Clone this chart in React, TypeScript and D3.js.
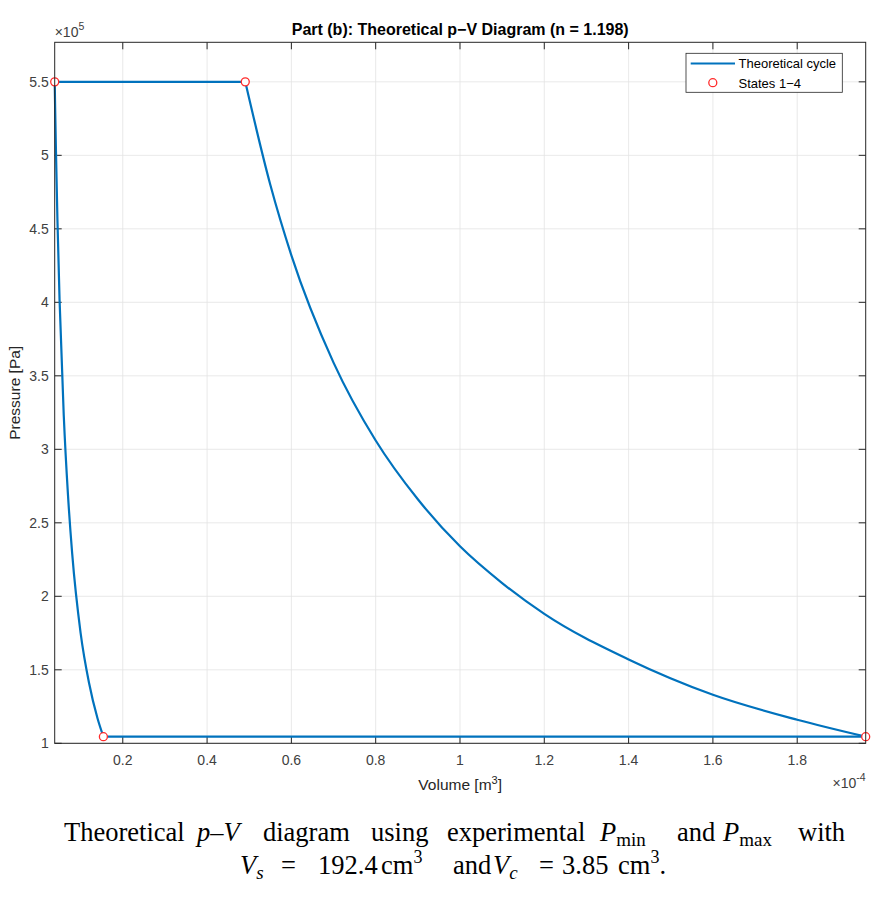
import React from 'react';
import * as d3 from 'd3';

// volumes in 1e-4 m^3, pressures in 1e5 Pa
const stateV = [0.154, 0.0385, 0.4906, 1.9625];
const stateP = [1.045, 5.5, 5.5, 1.045];

const compressionV = [0.0385, 0.0395, 0.0415, 0.045, 0.05, 0.06, 0.07, 0.08, 0.1, 0.12, 0.14, 0.154];
const compressionP = [5.5, 5.33, 5.03, 4.56, 4.02, 3.23, 2.69, 2.29, 1.75, 1.41, 1.17, 1.045];

const expansionV = [0.4906, 0.55, 0.6, 0.7, 0.8, 0.9, 1.0, 1.1, 1.2, 1.4, 1.6, 1.8, 1.9625];
const expansionP = [5.5, 4.8, 4.32, 3.59, 3.06, 2.66, 2.34, 2.09, 1.88, 1.57, 1.33, 1.16, 1.045];

const xTicks = [0.2, 0.4, 0.6, 0.8, 1, 1.2, 1.4, 1.6, 1.8];
const yTicks = [1, 1.5, 2, 2.5, 3, 3.5, 4, 4.5, 5, 5.5];

const W = 887, H = 904;
const left = 54.7, right = 865.7, top = 42.3, bottom = 743.3;

const axisColor = '#262626';
const lineColor = '#0072BD';
const markColor = '#ff2b2b';
const font = 'Liberation Sans, Arial, Helvetica, sans-serif';
const serif = 'Liberation Serif, Times New Roman, serif';

export default function App() {
  const x = d3.scaleLinear().domain([0.0385, 1.9625]).range([left, right]);
  const y = d3.scaleLinear().domain([1, 5.769]).range([bottom, top]);

  const line = d3.line<[number, number]>()
    .x(d => x(d[0]))
    .y(d => y(d[1]))
    .curve(d3.curveMonotoneX);

  const comp = compressionV.map((v, i) => [v, compressionP[i]] as [number, number]);
  const exp = expansionV.map((v, i) => [v, expansionP[i]] as [number, number]);
  const topLine: [number, number][] = [[stateV[1], stateP[1]], [stateV[2], stateP[2]]];
  const botLine: [number, number][] = [[stateV[0], stateP[0]], [stateV[3], stateP[3]]];

  const tl = 7;
  const tickFmt = d3.format('~g');
  const l1 = 841, l2 = 874;

  return (
    <svg width={W} height={H} style={{ position: 'absolute', left: 0, top: 0, background: '#fff' }}>
      <rect x={0} y={0} width={W} height={H} fill="#fff" />
      {/* grid */}
      {xTicks.map(t => (
        <line key={'gx' + t} x1={x(t)} x2={x(t)} y1={top} y2={bottom} stroke="#e3e3e3" strokeWidth={0.8} />
      ))}
      {yTicks.map(t => (
        <line key={'gy' + t} x1={left} x2={right} y1={y(t)} y2={y(t)} stroke="#e3e3e3" strokeWidth={0.8} />
      ))}

      {/* ticks on all four sides */}
      {xTicks.map(t => (
        <g key={'tx' + t} stroke={axisColor} strokeWidth={1}>
          <line x1={x(t)} x2={x(t)} y1={bottom} y2={bottom - tl} />
          <line x1={x(t)} x2={x(t)} y1={top} y2={top + tl} />
        </g>
      ))}
      {yTicks.map(t => (
        <g key={'ty' + t} stroke={axisColor} strokeWidth={1}>
          <line x1={left} x2={left + tl} y1={y(t)} y2={y(t)} />
          <line x1={right} x2={right - tl} y1={y(t)} y2={y(t)} />
        </g>
      ))}

      {/* cycle */}
      <g fill="none" stroke={lineColor} strokeWidth={2.2}>
        <path d={line(comp) || ''} />
        <path d={line(topLine) || ''} />
        <path d={line(exp) || ''} />
        <path d={line(botLine) || ''} />
      </g>
      {stateV.map((v, i) => (
        <circle key={'s' + i} cx={x(v)} cy={y(stateP[i])} r={4} fill="#fff" stroke={markColor} strokeWidth={1.3} />
      ))}

      {/* box */}
      <rect x={left} y={top} width={right - left} height={bottom - top} fill="none" stroke={axisColor} strokeWidth={1} />

      {/* tick labels */}
      <g fontFamily={font} fontSize={14} fill="#404040">
        {xTicks.map(t => (
          <text key={'lx' + t} x={x(t)} y={bottom + 22} textAnchor="middle">{tickFmt(t)}</text>
        ))}
        {yTicks.map(t => (
          <text key={'ly' + t} x={left - 6} y={y(t) + 5} textAnchor="end">{tickFmt(t)}</text>
        ))}
        <text x={left} y={37}>
          <tspan>×10</tspan>
          <tspan dy={-7} fontSize={10.5}>5</tspan>
        </text>
        <text x={right} y={788} textAnchor="end">
          <tspan>×10</tspan>
          <tspan dy={-7} fontSize={10.5}>-4</tspan>
        </text>
      </g>

      {/* axis labels */}
      <text x={(left + right) / 2} y={790} textAnchor="middle" fontFamily={font} fontSize={15.5} fill="#262626">
        <tspan>Volume [m</tspan>
        <tspan dy={-6} fontSize={11}>3</tspan>
        <tspan dy={6}>]</tspan>
      </text>
      <text transform={`translate(20, ${(top + bottom) / 2}) rotate(-90)`} textAnchor="middle" fontFamily={font} fontSize={15.5} fill="#262626">
        Pressure [Pa]
      </text>

      {/* title */}
      <text x={(left + right) / 2} y={35} textAnchor="middle" fontFamily={font} fontSize={16} fontWeight="bold" fill="#000">
        Part (b): Theoretical p−V Diagram (n = 1.198)
      </text>

      {/* legend */}
      <g fontFamily={font} fontSize={13} fill="#000">
        <rect x={686} y={53.3} width={156.3} height={39} fill="#fff" stroke={axisColor} strokeWidth={0.8} />
        <line x1={690.7} x2={735} y1={63.5} y2={63.5} stroke={lineColor} strokeWidth={2.2} />
        <text x={738.5} y={68}>Theoretical cycle</text>
        <circle cx={712.8} cy={82.7} r={4} fill="#fff" stroke={markColor} strokeWidth={1.3} />
        <text x={738.5} y={87.5}>States 1−4</text>
      </g>

      {/* caption */}
      <g fontFamily={serif} fontSize={26.5} fill="#000">
        <text x={64} y={l1}>Theoretical</text>
        <text x={197} y={l1} fontStyle="italic">p–V</text>
        <text x={263} y={l1}>diagram</text>
        <text x={371} y={l1}>using</text>
        <text x={447} y={l1}>experimental</text>
        <text x={600} y={l1}><tspan fontStyle="italic">P</tspan><tspan dy={5} fontSize={19}>min</tspan></text>
        <text x={677} y={l1}>and</text>
        <text x={723} y={l1}><tspan fontStyle="italic">P</tspan><tspan dy={5} fontSize={19}>max</tspan></text>
        <text x={798} y={l1}>with</text>

        <text x={240} y={l2}><tspan fontStyle="italic">V</tspan><tspan dy={5} fontSize={19} fontStyle="italic">s</tspan></text>
        <text x={281} y={l2}>=</text>
        <text x={318} y={l2}>192.4</text>
        <text x={381} y={l2}>cm<tspan dy={-11} fontSize={18}>3</tspan></text>
        <text x={453} y={l2}>and</text>
        <text x={493} y={l2}><tspan fontStyle="italic">V</tspan><tspan dy={5} fontSize={19} fontStyle="italic">c</tspan></text>
        <text x={539} y={l2}>=</text>
        <text x={562} y={l2}>3.85</text>
        <text x={618} y={l2}>cm<tspan dy={-11} fontSize={18}>3</tspan><tspan dy={11}>.</tspan></text>
      </g>
    </svg>
  );
}
